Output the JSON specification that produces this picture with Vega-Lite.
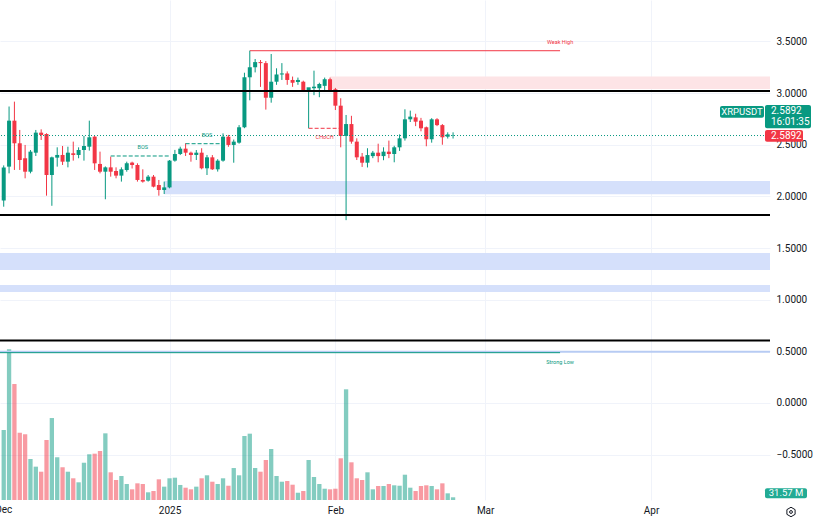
{
  "$schema": "https://vega.github.io/schema/vega-lite/v6.json",
  "width": 770,
  "height": 500,
  "autosize": "none",
  "padding": {"left": 0, "top": 0, "right": 52, "bottom": 22},
  "background": "#ffffff",
  "config": {"view": {"stroke": null}, "font": "Roboto"},
  "datasets": {
    "ohlc": [
      {"d":"2024-12-01","o":1.96,"h":2.30,"l":1.90,"c":2.28,"v":819},
      {"d":"2024-12-02","o":2.288,"h":2.87,"l":2.223,"c":2.733,"v":1763},
      {"d":"2024-12-03","o":2.733,"h":2.917,"l":2.256,"c":2.514,"v":1357},
      {"d":"2024-12-04","o":2.514,"h":2.643,"l":2.256,"c":2.352,"v":787},
      {"d":"2024-12-05","o":2.369,"h":2.498,"l":2.175,"c":2.239,"v":769},
      {"d":"2024-12-06","o":2.239,"h":2.449,"l":2.223,"c":2.433,"v":480},
      {"d":"2024-12-07","o":2.423,"h":2.643,"l":2.391,"c":2.617,"v":390},
      {"d":"2024-12-08","o":2.617,"h":2.649,"l":2.546,"c":2.594,"v":331},
      {"d":"2024-12-09","o":2.604,"h":2.611,"l":2.007,"c":2.207,"v":702},
      {"d":"2024-12-10","o":2.207,"h":2.385,"l":1.909,"c":2.378,"v":959},
      {"d":"2024-12-11","o":2.375,"h":2.475,"l":2.288,"c":2.401,"v":500},
      {"d":"2024-12-12","o":2.401,"h":2.488,"l":2.304,"c":2.336,"v":383},
      {"d":"2024-12-13","o":2.336,"h":2.481,"l":2.281,"c":2.423,"v":331},
      {"d":"2024-12-14","o":2.417,"h":2.530,"l":2.346,"c":2.401,"v":254},
      {"d":"2024-12-15","o":2.401,"h":2.475,"l":2.369,"c":2.449,"v":207},
      {"d":"2024-12-16","o":2.449,"h":2.585,"l":2.346,"c":2.488,"v":436},
      {"d":"2024-12-17","o":2.481,"h":2.733,"l":2.443,"c":2.572,"v":535},
      {"d":"2024-12-18","o":2.578,"h":2.585,"l":2.256,"c":2.320,"v":542},
      {"d":"2024-12-19","o":2.314,"h":2.433,"l":2.223,"c":2.239,"v":573},
      {"d":"2024-12-20","o":2.239,"h":2.29,"l":1.972,"c":2.281,"v":780},
      {"d":"2024-12-21","o":2.281,"h":2.385,"l":2.191,"c":2.239,"v":324},
      {"d":"2024-12-22","o":2.246,"h":2.281,"l":2.175,"c":2.201,"v":234},
      {"d":"2024-12-23","o":2.201,"h":2.281,"l":2.143,"c":2.262,"v":281},
      {"d":"2024-12-24","o":2.256,"h":2.336,"l":2.239,"c":2.320,"v":187},
      {"d":"2024-12-25","o":2.327,"h":2.336,"l":2.27,"c":2.304,"v":125},
      {"d":"2024-12-26","o":2.304,"h":2.320,"l":2.143,"c":2.159,"v":195},
      {"d":"2024-12-27","o":2.159,"h":2.262,"l":2.133,"c":2.143,"v":187},
      {"d":"2024-12-28","o":2.152,"h":2.207,"l":2.143,"c":2.191,"v":90},
      {"d":"2024-12-29","o":2.191,"h":2.207,"l":2.087,"c":2.094,"v":105},
      {"d":"2024-12-30","o":2.110,"h":2.159,"l":2.007,"c":2.062,"v":242},
      {"d":"2024-12-31","o":2.062,"h":2.143,"l":2.023,"c":2.087,"v":156},
      {"d":"2025-01-01","o":2.087,"h":2.352,"l":2.078,"c":2.346,"v":254},
      {"d":"2025-01-02","o":2.346,"h":2.45,"l":2.336,"c":2.41,"v":261},
      {"d":"2025-01-03","o":2.41,"h":2.481,"l":2.40,"c":2.462,"v":176},
      {"d":"2025-01-04","o":2.462,"h":2.514,"l":2.391,"c":2.423,"v":144},
      {"d":"2025-01-05","o":2.423,"h":2.433,"l":2.336,"c":2.401,"v":125},
      {"d":"2025-01-06","o":2.401,"h":2.449,"l":2.352,"c":2.423,"v":156},
      {"d":"2025-01-07","o":2.423,"h":2.466,"l":2.262,"c":2.272,"v":254},
      {"d":"2025-01-08","o":2.272,"h":2.401,"l":2.207,"c":2.378,"v":289},
      {"d":"2025-01-09","o":2.378,"h":2.40,"l":2.256,"c":2.262,"v":214},
      {"d":"2025-01-10","o":2.262,"h":2.36,"l":2.24,"c":2.346,"v":187},
      {"d":"2025-01-11","o":2.346,"h":2.61,"l":2.336,"c":2.578,"v":254},
      {"d":"2025-01-12","o":2.578,"h":2.595,"l":2.48,"c":2.498,"v":167},
      {"d":"2025-01-13","o":2.498,"h":2.55,"l":2.326,"c":2.53,"v":374},
      {"d":"2025-01-14","o":2.52,"h":2.69,"l":2.51,"c":2.669,"v":289},
      {"d":"2025-01-15","o":2.669,"h":3.197,"l":2.66,"c":3.153,"v":749},
      {"d":"2025-01-16","o":3.153,"h":3.41,"l":2.93,"c":3.25,"v":776},
      {"d":"2025-01-17","o":3.25,"h":3.33,"l":3.20,"c":3.30,"v":374},
      {"d":"2025-01-18","o":3.30,"h":3.32,"l":3.06,"c":3.29,"v":331},
      {"d":"2025-01-19","o":3.29,"h":3.31,"l":2.84,"c":2.955,"v":468},
      {"d":"2025-01-20","o":2.955,"h":3.378,"l":2.907,"c":3.11,"v":597},
      {"d":"2025-01-21","o":3.11,"h":3.24,"l":3.08,"c":3.18,"v":281},
      {"d":"2025-01-22","o":3.18,"h":3.29,"l":3.127,"c":3.19,"v":214},
      {"d":"2025-01-23","o":3.19,"h":3.21,"l":3.08,"c":3.127,"v":222},
      {"d":"2025-01-24","o":3.127,"h":3.16,"l":3.06,"c":3.10,"v":179},
      {"d":"2025-01-25","o":3.107,"h":3.15,"l":3.08,"c":3.127,"v":85},
      {"d":"2025-01-26","o":3.11,"h":3.12,"l":3.01,"c":3.023,"v":105},
      {"d":"2025-01-27","o":3.023,"h":3.04,"l":2.659,"c":3.056,"v":468},
      {"d":"2025-01-28","o":3.047,"h":3.217,"l":2.98,"c":3.062,"v":269},
      {"d":"2025-01-29","o":3.047,"h":3.10,"l":2.96,"c":3.088,"v":187},
      {"d":"2025-01-30","o":3.07,"h":3.15,"l":3.03,"c":3.134,"v":132},
      {"d":"2025-01-31","o":3.134,"h":3.15,"l":3.01,"c":3.023,"v":125},
      {"d":"2025-02-01","o":3.037,"h":3.05,"l":2.836,"c":2.878,"v":132},
      {"d":"2025-02-02","o":2.878,"h":2.95,"l":2.475,"c":2.585,"v":488},
      {"d":"2025-02-03","o":2.585,"h":2.788,"l":1.77,"c":2.70,"v":1295},
      {"d":"2025-02-04","o":2.70,"h":2.78,"l":2.51,"c":2.53,"v":441},
      {"d":"2025-02-05","o":2.53,"h":2.562,"l":2.352,"c":2.378,"v":254},
      {"d":"2025-02-06","o":2.385,"h":2.42,"l":2.285,"c":2.326,"v":234},
      {"d":"2025-02-07","o":2.326,"h":2.466,"l":2.28,"c":2.40,"v":324},
      {"d":"2025-02-08","o":2.39,"h":2.44,"l":2.37,"c":2.423,"v":125},
      {"d":"2025-02-09","o":2.423,"h":2.51,"l":2.33,"c":2.39,"v":164},
      {"d":"2025-02-10","o":2.39,"h":2.475,"l":2.35,"c":2.433,"v":164},
      {"d":"2025-02-11","o":2.433,"h":2.54,"l":2.37,"c":2.41,"v":187},
      {"d":"2025-02-12","o":2.41,"h":2.49,"l":2.33,"c":2.475,"v":172},
      {"d":"2025-02-13","o":2.475,"h":2.60,"l":2.44,"c":2.562,"v":167},
      {"d":"2025-02-14","o":2.562,"h":2.843,"l":2.54,"c":2.746,"v":296},
      {"d":"2025-02-15","o":2.746,"h":2.83,"l":2.72,"c":2.772,"v":144},
      {"d":"2025-02-16","o":2.765,"h":2.80,"l":2.68,"c":2.723,"v":105},
      {"d":"2025-02-17","o":2.733,"h":2.76,"l":2.63,"c":2.659,"v":164},
      {"d":"2025-02-18","o":2.669,"h":2.676,"l":2.485,"c":2.553,"v":172},
      {"d":"2025-02-19","o":2.553,"h":2.757,"l":2.52,"c":2.746,"v":164},
      {"d":"2025-02-20","o":2.746,"h":2.757,"l":2.68,"c":2.69,"v":125},
      {"d":"2025-02-21","o":2.69,"h":2.70,"l":2.50,"c":2.572,"v":195},
      {"d":"2025-02-22","o":2.578,"h":2.62,"l":2.56,"c":2.60,"v":78},
      {"d":"2025-02-23","o":2.585,"h":2.62,"l":2.56,"c":2.5892,"v":31.57}
    ],
    "demand": [
      {"start":"2024-12-31","end":"2025-04-30","lo":2.02,"hi":2.149},
      {"start":"2024-11-25","end":"2025-04-30","lo":1.288,"hi":1.452},
      {"start":"2024-11-25","end":"2025-04-30","lo":1.075,"hi":1.142}
    ],
    "supply": [
      {"start":"2025-01-31","end":"2025-04-30","lo":3.04,"hi":3.16}
    ],
    "levels": [{"p":3.02},{"p":1.82},{"p":0.605}],
    "bos": [
      {"start":"2024-12-21","end":"2025-01-01","level":2.391,"mid":"2024-12-27"},
      {"start":"2025-01-04","end":"2025-01-11","level":2.51,"mid":"2025-01-08"}
    ],
    "choch": [
      {"start":"2025-01-27","end":"2025-02-02","level":2.659,"mid":"2025-01-30"}
    ],
    "weakHigh": [{"start":"2025-01-16","end":"2025-03-15","price":3.41,"label":"Weak High"}],
    "strongLow": [{"start":"2024-11-30","end":"2025-03-15","price":0.487,"label":"Strong Low"}],
    "one": [{"k":1}]
  },
  "layer": [
    {
      "data": {"name": "ohlc"},
      "layer": [
        {
          "mark": {"type": "bar", "size": 4.3, "opacity": 0.5},
          "encoding": {
            "x": {"field": "d", "type": "temporal",
                  "scale": {"type": "utc", "domain": [1733031936000, 1745306784000], "nice": false},
                  "axis": {"values": [1735689600000, 1738368000000, 1740787200000, 1743465600000],
                           "labelExpr": "utcFormat(datum.value,'%m')=='01' ? utcFormat(datum.value,'%Y') : utcFormat(datum.value,'%b')",
                           "labelFontSize": 10, "labelColor": "#131722", "labelPadding": 5, "labelFont": "Roboto",
                           "grid": true, "gridColor": "#f0f3fa", "domain": false, "ticks": false,
                           "title": null, "labelFlush": false, "labelOverlap": false, "orient": "bottom"}},
            "y": {"field": "v", "type": "quantitative", "scale": {"domain": [0, 5850], "nice": false, "zero": false}, "axis": null},
            "color": {"condition": {"test": "datum.c >= datum.o", "value": "#089981"}, "value": "#f23645"}
          }
        },
        {
          "data": {"name": "one"},
          "mark": {"type": "rect", "color": "#22ab94", "cornerRadius": 2, "x2Offset": 42},
          "encoding": {
            "x": {"datum": 1745306784000, "type": "temporal", "scale": {"type": "utc", "domain": [1733031936000, 1745306784000], "nice": false}},
            "x2": {"datum": 1745306784000},
            "y": {"datum": 137, "type": "quantitative", "scale": {"domain": [0, 5850], "nice": false, "zero": false}, "axis": null},
            "y2": {"datum": 20}
          }
        },
        {
          "data": {"name": "one"},
          "mark": {"type": "text", "text": "31.57 M", "color": "#ffffff", "fontSize": 9.5, "dx": 21, "align": "center", "baseline": "middle"},
          "encoding": {
            "x": {"datum": 1745306784000, "type": "temporal", "scale": {"type": "utc", "domain": [1733031936000, 1745306784000], "nice": false}},
            "y": {"datum": 78, "type": "quantitative", "scale": {"domain": [0, 5850], "nice": false, "zero": false}, "axis": null}
          }
        }
      ]
    },
    {
      "layer": [
        {
          "data": {"name": "demand"},
          "mark": {"type": "rect", "color": "#d5e0fb", "clip": true},
          "encoding": {
            "x": {"field": "start", "type": "temporal", "scale": {"type": "utc", "domain": [1733031936000, 1745306784000], "nice": false}},
            "x2": {"field": "end"},
            "y": {"field": "lo", "type": "quantitative", "scale": {"domain": [-0.939, 3.901], "nice": false, "zero": false}},
            "y2": {"field": "hi"}
          }
        },
        {
          "data": {"name": "supply"},
          "mark": {"type": "rect", "color": "#fde4e6", "clip": true},
          "encoding": {
            "x": {"field": "start", "type": "temporal", "scale": {"type": "utc", "domain": [1733031936000, 1745306784000], "nice": false}},
            "x2": {"field": "end"},
            "y": {"field": "lo", "type": "quantitative", "scale": {"domain": [-0.939, 3.901], "nice": false, "zero": false}},
            "y2": {"field": "hi"}
          }
        },
        {
          "data": {"name": "one"},
          "mark": {"type": "rule", "color": "#b7cbf3", "strokeWidth": 2},
          "encoding": {
            "y": {"datum": 0.496, "type": "quantitative", "scale": {"domain": [-0.939, 3.901], "nice": false, "zero": false}}
          }
        },
        {
          "data": {"name": "weakHigh"},
          "mark": {"type": "rule", "color": "#f23645", "strokeWidth": 1},
          "encoding": {
            "x": {"field": "start", "type": "temporal", "scale": {"type": "utc", "domain": [1733031936000, 1745306784000], "nice": false}},
            "x2": {"field": "end"},
            "y": {"field": "price", "type": "quantitative", "scale": {"domain": [-0.939, 3.901], "nice": false, "zero": false}}
          }
        },
        {
          "data": {"name": "strongLow"},
          "mark": {"type": "rule", "color": "#089981", "strokeWidth": 1},
          "encoding": {
            "x": {"field": "start", "type": "temporal", "scale": {"type": "utc", "domain": [1733031936000, 1745306784000], "nice": false}},
            "x2": {"field": "end"},
            "y": {"field": "price", "type": "quantitative", "scale": {"domain": [-0.939, 3.901], "nice": false, "zero": false}}
          }
        },
        {
          "data": {"name": "ohlc"},
          "mark": {"type": "rule", "strokeWidth": 1},
          "encoding": {
            "x": {"field": "d", "type": "temporal", "scale": {"type": "utc", "domain": [1733031936000, 1745306784000], "nice": false}},
            "y": {"field": "l", "type": "quantitative", "scale": {"domain": [-0.939, 3.901], "nice": false, "zero": false}},
            "y2": {"field": "h"},
            "color": {"condition": {"test": "datum.c >= datum.o", "value": "#089981"}, "value": "#f23645"}
          }
        },
        {
          "data": {"name": "ohlc"},
          "mark": {"type": "bar", "size": 4},
          "encoding": {
            "x": {"field": "d", "type": "temporal", "scale": {"type": "utc", "domain": [1733031936000, 1745306784000], "nice": false}},
            "y": {"field": "o", "type": "quantitative", "scale": {"domain": [-0.939, 3.901], "nice": false, "zero": false},
                  "axis": {"orient": "right", "values": [-0.5, 0, 0.5, 1, 1.5, 2, 2.5, 3, 3.5], "format": ".4f",
                           "labelFontSize": 10, "labelColor": "#131722", "labelPadding": 6, "labelFont": "Roboto",
                           "grid": true, "gridColor": "#f0f3fa", "domain": false, "ticks": false, "title": null}},
            "y2": {"field": "c"},
            "color": {"condition": {"test": "datum.c >= datum.o", "value": "#089981"}, "value": "#f23645"}
          }
        },
        {
          "data": {"name": "one"},
          "mark": {"type": "rule", "color": "#089981", "strokeWidth": 1, "strokeDash": [1, 2]},
          "encoding": {
            "y": {"datum": 2.5892, "type": "quantitative", "scale": {"domain": [-0.939, 3.901], "nice": false, "zero": false}}
          }
        },
        {
          "data": {"name": "bos"},
          "mark": {"type": "rule", "color": "#089981", "strokeWidth": 1, "strokeDash": [4, 2]},
          "encoding": {
            "x": {"field": "start", "type": "temporal", "scale": {"type": "utc", "domain": [1733031936000, 1745306784000], "nice": false}},
            "x2": {"field": "end"},
            "y": {"field": "level", "type": "quantitative", "scale": {"domain": [-0.939, 3.901], "nice": false, "zero": false}}
          }
        },
        {
          "data": {"name": "bos"},
          "mark": {"type": "text", "text": "BOS", "color": "#089981", "fontSize": 5.5, "dy": -9, "align": "center", "baseline": "middle"},
          "encoding": {
            "x": {"field": "mid", "type": "temporal", "scale": {"type": "utc", "domain": [1733031936000, 1745306784000], "nice": false}},
            "y": {"field": "level", "type": "quantitative", "scale": {"domain": [-0.939, 3.901], "nice": false, "zero": false}}
          }
        },
        {
          "data": {"name": "choch"},
          "mark": {"type": "rule", "color": "#f23645", "strokeWidth": 1, "strokeDash": [4, 2]},
          "encoding": {
            "x": {"field": "start", "type": "temporal", "scale": {"type": "utc", "domain": [1733031936000, 1745306784000], "nice": false}},
            "x2": {"field": "end"},
            "y": {"field": "level", "type": "quantitative", "scale": {"domain": [-0.939, 3.901], "nice": false, "zero": false}}
          }
        },
        {
          "data": {"name": "choch"},
          "mark": {"type": "text", "text": "CHoCH", "color": "#f23645", "fontSize": 5.5, "dy": 9, "align": "center", "baseline": "middle"},
          "encoding": {
            "x": {"field": "mid", "type": "temporal", "scale": {"type": "utc", "domain": [1733031936000, 1745306784000], "nice": false}},
            "y": {"field": "level", "type": "quantitative", "scale": {"domain": [-0.939, 3.901], "nice": false, "zero": false}}
          }
        },
        {
          "data": {"name": "weakHigh"},
          "mark": {"type": "text", "color": "#f23645", "fontSize": 5.5, "dy": -9, "align": "center", "baseline": "middle"},
          "encoding": {
            "x": {"field": "end", "type": "temporal", "scale": {"type": "utc", "domain": [1733031936000, 1745306784000], "nice": false}},
            "y": {"field": "price", "type": "quantitative", "scale": {"domain": [-0.939, 3.901], "nice": false, "zero": false}},
            "text": {"field": "label"}
          }
        },
        {
          "data": {"name": "strongLow"},
          "mark": {"type": "text", "color": "#089981", "fontSize": 5.5, "dy": 9, "align": "center", "baseline": "middle"},
          "encoding": {
            "x": {"field": "end", "type": "temporal", "scale": {"type": "utc", "domain": [1733031936000, 1745306784000], "nice": false}},
            "y": {"field": "price", "type": "quantitative", "scale": {"domain": [-0.939, 3.901], "nice": false, "zero": false}},
            "text": {"field": "label"}
          }
        },
        {
          "data": {"name": "levels"},
          "mark": {"type": "rule", "color": "#000000", "strokeWidth": 2},
          "encoding": {
            "y": {"field": "p", "type": "quantitative", "scale": {"domain": [-0.939, 3.901], "nice": false, "zero": false}}
          }
        },
        {
          "data": {"name": "one"},
          "mark": {"type": "rect", "color": "#089981", "cornerRadius": 2, "xOffset": -45, "x2Offset": -1},
          "encoding": {
            "x": {"datum": 1745306784000, "type": "temporal", "scale": {"type": "utc", "domain": [1733031936000, 1745306784000], "nice": false}},
            "x2": {"datum": 1745306784000},
            "y": {"datum": 2.875, "type": "quantitative", "scale": {"domain": [-0.939, 3.901], "nice": false, "zero": false}},
            "y2": {"datum": 2.762}
          }
        },
        {
          "data": {"name": "one"},
          "mark": {"type": "text", "text": "XRPUSDT", "color": "#ffffff", "fontSize": 9.5, "dx": -23, "align": "center", "baseline": "middle"},
          "encoding": {
            "x": {"datum": 1745306784000, "type": "temporal", "scale": {"type": "utc", "domain": [1733031936000, 1745306784000], "nice": false}},
            "y": {"datum": 2.818, "type": "quantitative", "scale": {"domain": [-0.939, 3.901], "nice": false, "zero": false}}
          }
        },
        {
          "data": {"name": "one"},
          "mark": {"type": "rect", "color": "#089981", "cornerRadius": 2, "x2Offset": 46},
          "encoding": {
            "x": {"datum": 1745306784000, "type": "temporal", "scale": {"type": "utc", "domain": [1733031936000, 1745306784000], "nice": false}},
            "x2": {"datum": 1745306784000},
            "y": {"datum": 2.885, "type": "quantitative", "scale": {"domain": [-0.939, 3.901], "nice": false, "zero": false}},
            "y2": {"datum": 2.659}
          }
        },
        {
          "data": {"name": "one"},
          "mark": {"type": "text", "text": "2.5892", "color": "#ffffff", "fontSize": 10, "dx": 6, "align": "left", "baseline": "middle"},
          "encoding": {
            "x": {"datum": 1745306784000, "type": "temporal", "scale": {"type": "utc", "domain": [1733031936000, 1745306784000], "nice": false}},
            "y": {"datum": 2.829, "type": "quantitative", "scale": {"domain": [-0.939, 3.901], "nice": false, "zero": false}}
          }
        },
        {
          "data": {"name": "one"},
          "mark": {"type": "text", "text": "16:01:35", "color": "#ffffff", "fontSize": 10, "dx": 6, "align": "left", "baseline": "middle"},
          "encoding": {
            "x": {"datum": 1745306784000, "type": "temporal", "scale": {"type": "utc", "domain": [1733031936000, 1745306784000], "nice": false}},
            "y": {"datum": 2.723, "type": "quantitative", "scale": {"domain": [-0.939, 3.901], "nice": false, "zero": false}}
          }
        },
        {
          "data": {"name": "one"},
          "mark": {"type": "rect", "color": "#f23645", "cornerRadius": 2, "x2Offset": 38},
          "encoding": {
            "x": {"datum": 1745306784000, "type": "temporal", "scale": {"type": "utc", "domain": [1733031936000, 1745306784000], "nice": false}},
            "x2": {"datum": 1745306784000},
            "y": {"datum": 2.643, "type": "quantitative", "scale": {"domain": [-0.939, 3.901], "nice": false, "zero": false}},
            "y2": {"datum": 2.53}
          }
        },
        {
          "data": {"name": "one"},
          "mark": {"type": "text", "text": "2.5892", "color": "#ffffff", "fontSize": 10, "dx": 6, "align": "left", "baseline": "middle"},
          "encoding": {
            "x": {"datum": 1745306784000, "type": "temporal", "scale": {"type": "utc", "domain": [1733031936000, 1745306784000], "nice": false}},
            "y": {"datum": 2.586, "type": "quantitative", "scale": {"domain": [-0.939, 3.901], "nice": false, "zero": false}}
          }
        },
        {
          "data": {"name": "one"},
          "mark": {"type": "text", "text": "Dec", "color": "#131722", "fontSize": 10, "align": "center", "baseline": "middle"},
          "encoding": {
            "x": {"datum": 1733011200000, "type": "temporal", "scale": {"type": "utc", "domain": [1733031936000, 1745306784000], "nice": false}},
            "y": {"datum": -1.036, "type": "quantitative", "scale": {"domain": [-0.939, 3.901], "nice": false, "zero": false}}
          }
        },
        {
          "data": {"name": "one"},
          "mark": {"type": "point", "shape": "M0,-1L0.866,-0.5L0.866,0.5L0,1L-0.866,0.5L-0.866,-0.5Z", "filled": false, "stroke": "#131722", "strokeWidth": 1, "size": 90, "xOffset": 26, "opacity": 1},
          "encoding": {
            "x": {"datum": 1745306784000, "type": "temporal", "scale": {"type": "utc", "domain": [1733031936000, 1745306784000], "nice": false}},
            "y": {"datum": -1.055, "type": "quantitative", "scale": {"domain": [-0.939, 3.901], "nice": false, "zero": false}}
          }
        },
        {
          "data": {"name": "one"},
          "mark": {"type": "point", "shape": "circle", "filled": false, "stroke": "#131722", "strokeWidth": 1, "size": 8, "xOffset": 26, "opacity": 1},
          "encoding": {
            "x": {"datum": 1745306784000, "type": "temporal", "scale": {"type": "utc", "domain": [1733031936000, 1745306784000], "nice": false}},
            "y": {"datum": -1.055, "type": "quantitative", "scale": {"domain": [-0.939, 3.901], "nice": false, "zero": false}}
          }
        }
      ]
    }
  ],
  "resolve": {"scale": {"y": "independent"}}
}
